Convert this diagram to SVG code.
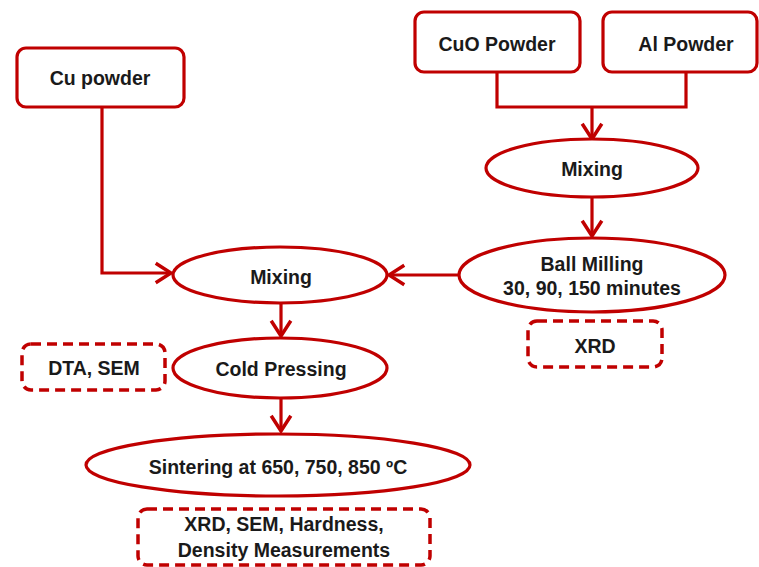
<svg xmlns="http://www.w3.org/2000/svg" width="759" height="567" viewBox="0 0 759 567">
<style>
.n{fill:#fff;stroke:#C00000;stroke-width:3.2}
.d{fill:#fff;stroke:#C00000;stroke-width:3.5;stroke-dasharray:10 6}
.c{fill:none;stroke:#C00000;stroke-width:3.2}
text{font-family:"Liberation Sans",Arial,sans-serif;font-weight:bold;font-size:19.5px;fill:#1a1a1a;text-anchor:middle;dominant-baseline:central}
</style>
<defs>
<marker id="ah" markerUnits="userSpaceOnUse" markerWidth="20" markerHeight="24" viewBox="-16 -11 18 22" refX="0" refY="0" orient="auto">
<path d="M-14,-9 L0,0 L-14,9" fill="none" stroke="#C00000" stroke-width="3.2"/>
</marker>
</defs>
<rect width="759" height="567" fill="#fff"/>
<g id="connectors">
<polyline class="c" points="497,72 497,107 686,107 686,72"/>
<line class="c" x1="592" y1="107" x2="592" y2="139" marker-end="url(#ah)"/>
<line class="c" x1="592" y1="198" x2="592" y2="236" marker-end="url(#ah)"/>
<line class="c" x1="459" y1="275" x2="389" y2="275" marker-end="url(#ah)"/>
<polyline class="c" points="102,107 102,273 171,273" marker-end="url(#ah)"/>
<line class="c" x1="281" y1="303" x2="281" y2="336" marker-end="url(#ah)"/>
<line class="c" x1="281" y1="398" x2="281" y2="431" marker-end="url(#ah)"/>
</g>
<g id="cu-powder"><rect class="n" x="17" y="48" width="167" height="59" rx="9"/><text x="100" y="78">Cu powder</text></g>
<g id="cuo-powder"><rect class="n" x="415" y="12" width="165" height="60" rx="9"/><text x="497" y="44">CuO Powder</text></g>
<g id="al-powder"><rect class="n" x="603" y="12" width="154" height="60" rx="9"/><text x="686" y="44">Al Powder</text></g>
<g id="mixing1"><ellipse class="n" cx="592" cy="168" rx="106" ry="29"/><text x="592" y="169">Mixing</text></g>
<g id="ball-milling"><ellipse class="n" cx="592" cy="275" rx="133" ry="37"/><text x="592" y="264">Ball Milling</text><text x="592" y="288">30, 90, 150 minutes</text></g>
<g id="xrd"><rect class="d" x="528" y="321" width="134" height="46" rx="9"/><text x="595" y="346">XRD</text></g>
<g id="mixing2"><ellipse class="n" cx="280" cy="275" rx="107" ry="28"/><text x="281" y="277">Mixing</text></g>
<g id="cold-pressing"><ellipse class="n" cx="280" cy="368" rx="107" ry="30"/><text x="281" y="369">Cold Pressing</text></g>
<g id="dta-sem"><rect class="d" x="22" y="344" width="143" height="46" rx="9"/><text x="94" y="368">DTA, SEM</text></g>
<g id="sintering"><ellipse class="n" cx="278" cy="465" rx="192" ry="31"/><text x="278" y="467">Sintering at 650, 750, 850 ºC</text></g>
<g id="measurements"><rect class="d" x="138" y="509" width="292" height="56" rx="9"/><text x="284" y="524">XRD, SEM, Hardness,</text><text x="284" y="550">Density Measurements</text></g>
</svg>
